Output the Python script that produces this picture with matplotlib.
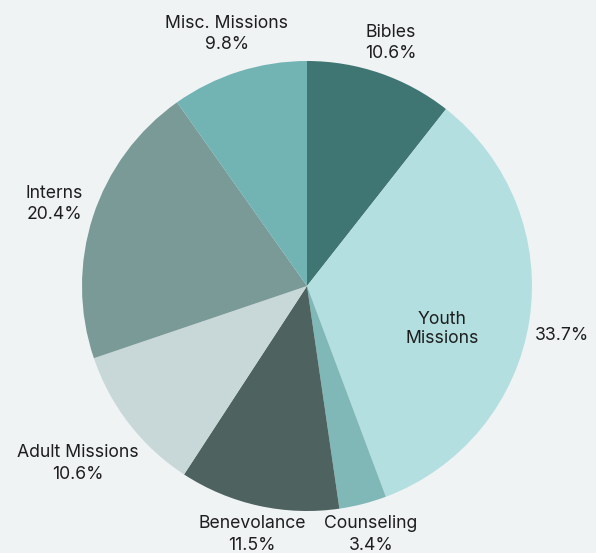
import numpy as np
import matplotlib
matplotlib.use("Agg")
import matplotlib.pyplot as plt

plt.rcParams['font.family'] = ['Inter', 'DejaVu Sans']

categories = ["Bibles", "Youth\nMissions", "Counseling", "Benevolance",
              "Adult Missions", "Interns", "Misc. Missions"]
values = [10.6, 33.7, 3.4, 11.5, 10.6, 20.4, 9.8]
colors = ["#3f7673", "#b3dfe0", "#80b8b8", "#4e6260",
          "#c8d8d8", "#7a9a97", "#72b3b3"]
label_dist = [1.143, 1.155, 1.14, 1.13, 1.29, 1.18, 1.175]

bg = "#eff3f4"
W, H = 596, 553
cx, cy, R = 307, 286, 225

fig = plt.figure(figsize=(W / 100, H / 100), dpi=100, facecolor=bg)
ax = fig.add_axes([0, 0, 1, 1])
ax.set_facecolor(bg)

wedges, _ = ax.pie(values, colors=colors, startangle=90, counterclock=False,
                   radius=1, center=(0, 0), wedgeprops=dict(linewidth=0))

ax.set_xlim(-cx / R, (W - cx) / R)
ax.set_ylim(-(H - cy) / R, cy / R)
ax.set_aspect('auto')
ax.axis('off')

fs = 12.7
tc = "#1e1e1e"
for i, (w, name, v) in enumerate(zip(wedges, categories, values)):
    mid = np.deg2rad((w.theta1 + w.theta2) / 2)
    d = label_dist[i]
    pct = f"{v:.1f}%"
    if "\n" in name:
        # name inside the slice, percentage outside
        ang = mid - np.deg2rad(8.9)
        ax.text(0.63 * np.cos(ang), 0.63 * np.sin(ang), name, ha='center', va='center',
                fontsize=fs, color=tc, linespacing=1.15)
        ang2 = mid - np.deg2rad(2.1)
        ax.text(d * np.cos(ang2), d * np.sin(ang2), pct, ha='center', va='center',
                fontsize=fs, color=tc)
    else:
        ax.text(d * np.cos(mid), d * np.sin(mid), f"{name}\n{pct}", ha='center', va='center',
                fontsize=fs, color=tc, linespacing=1.37)

fig.savefig("out.png", dpi=100, facecolor=bg)
